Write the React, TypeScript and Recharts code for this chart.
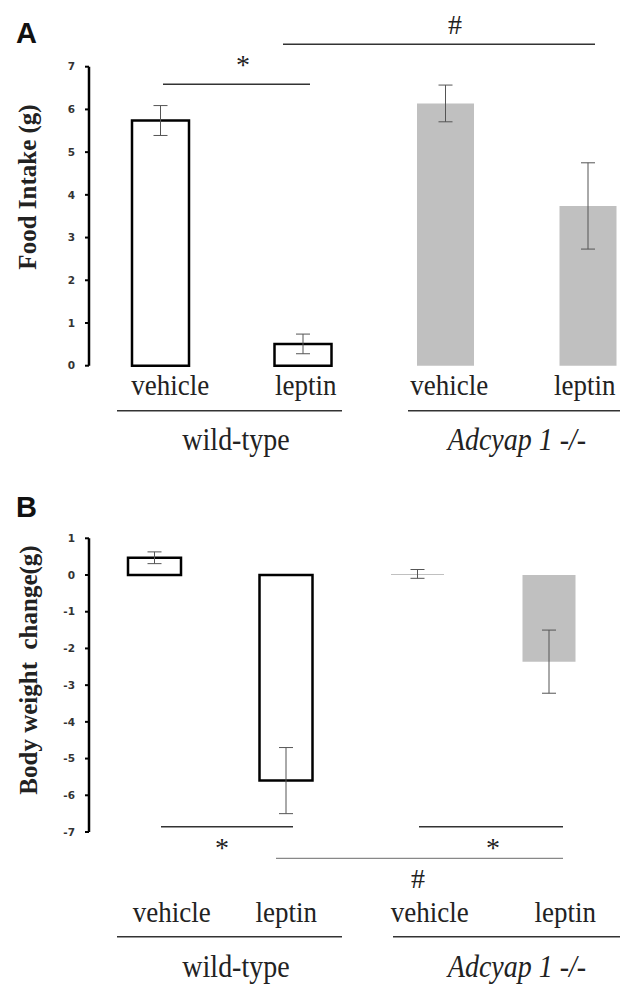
import React from "react";
import { BarChart, Bar, XAxis, YAxis, ErrorBar, Cell } from "recharts";

// groups: wild-type vehicle / leptin, Adcyap1-/- vehicle / leptin
const categories = ["wt-vehicle", "wt-leptin", "ko-vehicle", "ko-leptin"];
const categoryLabels = ["vehicle", "leptin", "vehicle", "leptin"];
const isKnockout = [false, false, true, true];

const foodIntake = [5.74, 0.51, 6.14, 3.74];
const foodIntakeSem = [0.35, 0.23, 0.43, 1.01];
const foodTicks = [0, 1, 2, 3, 4, 5, 6, 7];

const weightChange = [0.47, -5.6, 0.03, -2.36];
const weightChangeSem = [0.16, 0.9, 0.12, 0.86];
const weightTicks = [1, 0, -1, -2, -3, -4, -5, -6, -7];

const foodData = categories.map((c, i) => ({ cat: c, value: foodIntake[i], sem: foodIntakeSem[i] }));
const weightData = categories.map((c, i) => ({ cat: c, value: weightChange[i], sem: weightChangeSem[i] }));

const SERIF = "'Liberation Serif', 'Times New Roman', serif";
const SANS = "'DejaVu Sans', Verdana, sans-serif";
const GREY = "#c0c0c0";

// the serif text in the figure is a bit taller than Times at the same width
function Tall({ x, y, size = 27, italic = false, children }: any) {
  return (
    <text
      transform={`translate(${x},${y}) scale(1,1.12)`}
      textAnchor="middle"
      fontFamily={SERIF}
      fontSize={size}
      fontStyle={italic ? "italic" : "normal"}
      fill="#222"
    >
      {children}
    </text>
  );
}

function CatTick({ x, y, payload, dy, shift }: any) {
  const i = categories.indexOf(payload.value);
  return <Tall x={x + shift[i]} y={y + dy}>{categoryLabels[i]}</Tall>;
}

const yTick = { fontSize: 10.5, fontWeight: 700, fill: "#333", fontFamily: SANS };

function Panel({ data, ticks, domain, barSize, width, height, top, axisHeight, labelDy, labelShift }: any) {
  return (
    <BarChart width={width} height={height} data={data} margin={{ top, right: 0, bottom: 0, left: 0 }}>
      <XAxis
        dataKey="cat"
        axisLine={false}
        tickLine={false}
        tickSize={0}
        tickMargin={0}
        height={axisHeight}
        interval={0}
        tick={(p: any) => <CatTick {...p} dy={labelDy} shift={labelShift} />}
      />
      <YAxis
        width={89}
        domain={domain}
        ticks={ticks}
        interval={0}
        tick={yTick}
        tickSize={4}
        tickMargin={10}
        tickLine={{ stroke: "#000", strokeWidth: 2 }}
        axisLine={{ stroke: "#000", strokeWidth: 2.5 }}
      />
      <Bar dataKey="value" barSize={barSize} isAnimationActive={false}>
        {data.map((_: any, i: number) => (
          <Cell
            key={i}
            fill={isKnockout[i] ? GREY : "#fff"}
            stroke={isKnockout[i] ? "none" : "#000"}
            strokeWidth={isKnockout[i] ? 0 : 2.5}
          />
        ))}
        <ErrorBar dataKey="sem" width={7} stroke="#555" strokeWidth={1} direction="y" isAnimationActive={false} />
      </Bar>
    </BarChart>
  );
}

function Annotations() {
  const line = { stroke: "#333", strokeWidth: 1.5 };
  const big = { fontFamily: SERIF, fontSize: 28, fill: "#222", textAnchor: "middle" as const };
  const letter = { fontFamily: "'Liberation Sans', Arial, sans-serif", fontWeight: 700, fontSize: 29, fill: "#111" };
  const title = {
    textAnchor: "middle" as const,
    dominantBaseline: "central" as const,
    fontFamily: SERIF,
    fontWeight: 700,
    fontSize: 25,
    fill: "#222",
  };
  return (
    <svg width={620} height={988} style={{ position: "absolute", left: 0, top: 0, pointerEvents: "none" }}>
      {/* panel A */}
      <text x={16} y={43} {...letter}>A</text>
      <text transform="translate(27,187) rotate(-90)" {...title}>Food Intake (g)</text>
      <line x1={163} x2={310} y1={84.3} y2={84.3} {...line} />
      <text x={243} y={74} {...big}>*</text>
      <line x1={283} x2={595} y1={44.3} y2={44.3} {...line} />
      <text x={455} y={34} {...big}>#</text>
      <line x1={117} x2={342} y1={410.7} y2={410.7} {...line} />
      <line x1={408} x2={620} y1={410.7} y2={410.7} {...line} />
      <Tall x={236} y={450} size={28}>wild-type</Tall>
      <Tall x={517} y={450} size={28} italic>Adcyap 1 -/-</Tall>

      {/* panel B */}
      <text x={16} y={517} {...letter}>B</text>
      <text transform="translate(28,670) rotate(-90)" {...title} style={{ whiteSpace: "pre" }}>
        Body weight  change(g)
      </text>
      <line x1={161} x2={293} y1={826.7} y2={826.7} {...line} />
      <text x={222} y={857} {...big}>*</text>
      <line x1={419} x2={563} y1={826.7} y2={826.7} {...line} />
      <text x={493} y={857} {...big}>*</text>
      <line x1={276} x2={563} y1={858.3} y2={858.3} stroke="#888" strokeWidth={1.2} />
      <text x={418} y={888} {...big}>#</text>
      <line x1={117} x2={342} y1={936.7} y2={936.7} {...line} />
      <line x1={393} x2={620} y1={936.7} y2={936.7} {...line} />
      <Tall x={236} y={977} size={28}>wild-type</Tall>
      <Tall x={517} y={977} size={28} italic>Adcyap 1 -/-</Tall>
    </svg>
  );
}

export default function App() {
  return (
    <div style={{ position: "absolute", left: 0, top: 0, width: 620, height: 988, overflow: "hidden", background: "#fff" }}>
      <div style={{ position: "absolute", left: 0, top: 0 }}>
        <Panel
          data={foodData}
          ticks={foodTicks}
          domain={[0, 7]}
          barSize={57}
          width={659}
          height={470}
          top={66.7}
          axisHeight={104.3}
          labelDy={29}
          labelShift={[10, 3, 4, -3]}
        />
      </div>
      <div style={{ position: "absolute", left: 0, top: 480 }}>
        <Panel
          data={weightData}
          ticks={weightTicks}
          domain={[-7, 1]}
          barSize={53}
          width={615}
          height={508}
          top={58.3}
          axisHeight={156}
          labelDy={90}
          labelShift={[17, 0, 12, 16]}
        />
      </div>
      <Annotations />
    </div>
  );
}
